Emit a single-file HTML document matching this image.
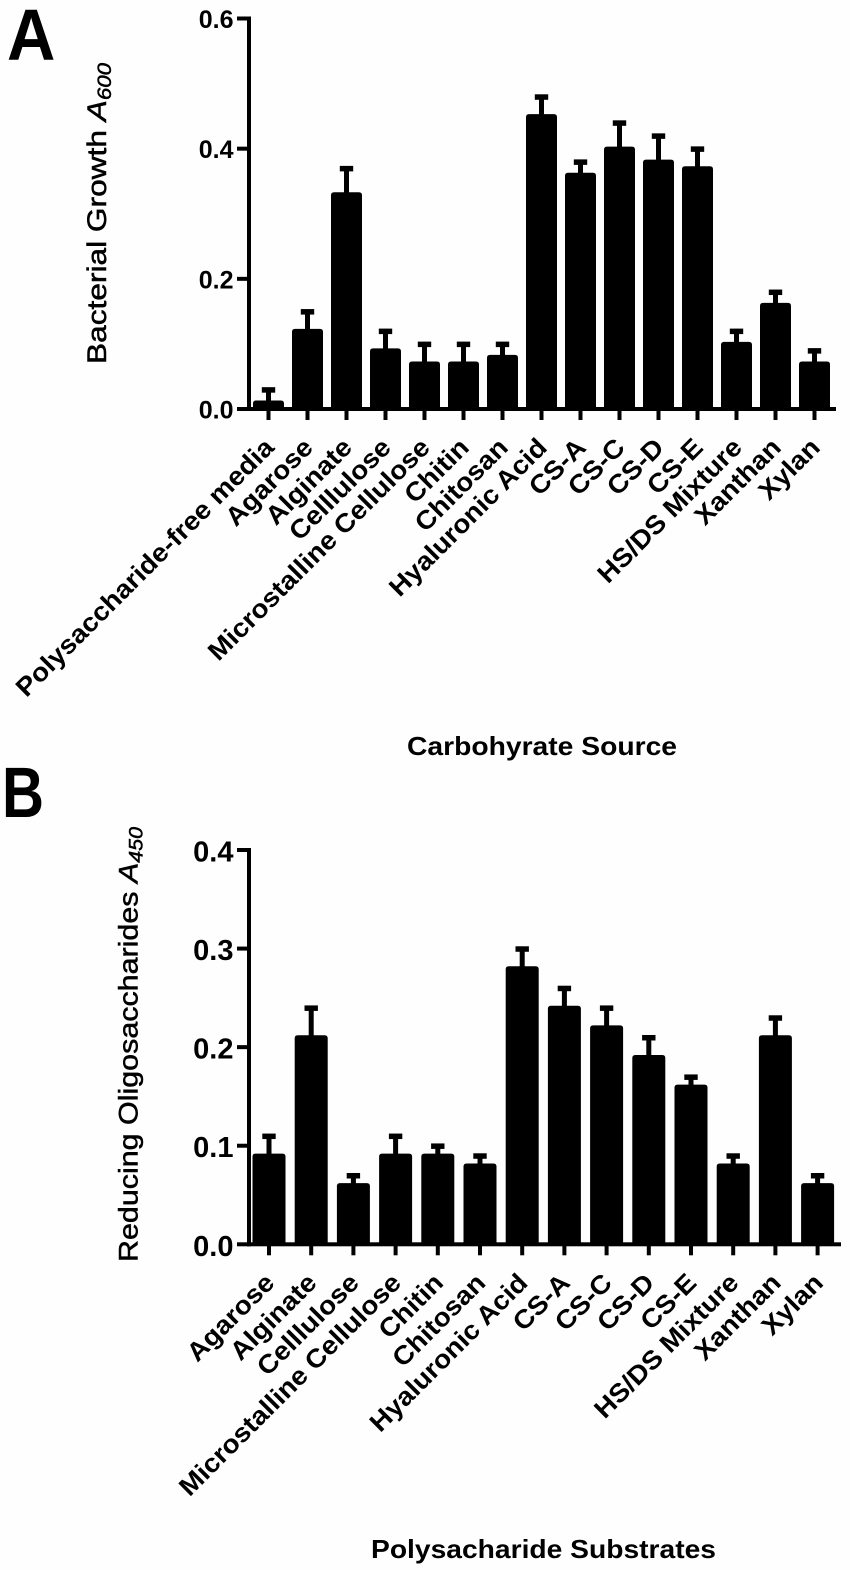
<!DOCTYPE html>
<html lang="en">
<head>
<meta charset="utf-8">
<title>Bacterial growth and reducing oligosaccharides</title>
<style>
html,body{margin:0;padding:0;background:#fefefe;}
svg{display:block;}
text{font-family:"Liberation Sans",sans-serif;font-weight:bold;fill:#000;}
</style>
</head>
<body>
<svg id="fig" xmlns="http://www.w3.org/2000/svg" width="850" height="1570" viewBox="0 0 850 1570">
  <text font-size="72" transform="translate(7 59.5) scale(0.93 1)">A</text>
  <text font-size="71" transform="translate(2 817) scale(0.82 1)">B</text>
  <text transform="translate(106 364) rotate(-90)" font-size="27" textLength="301" lengthAdjust="spacingAndGlyphs" style="font-weight:normal;stroke:#000;stroke-width:.5">Bacterial Growth <tspan font-style="italic">A</tspan><tspan font-style="italic" font-size="19" dy="5">600</tspan></text>
  <text x="407" y="755" font-size="26" textLength="270" lengthAdjust="spacingAndGlyphs">Carbohyrate Source</text>
  <text transform="translate(137.5 1262) rotate(-90)" font-size="27" textLength="435" lengthAdjust="spacingAndGlyphs" style="font-weight:normal;stroke:#000;stroke-width:.5">Reducing Oligosaccharides <tspan font-style="italic">A</tspan><tspan font-style="italic" font-size="19" dy="5">450</tspan></text>
  <text x="371" y="1558" font-size="26" textLength="345" lengthAdjust="spacingAndGlyphs">Polysacharide Substrates</text>
  <g id="chart-a"></g>
  <g id="chart-b"></g>
</svg>
<script>
const categoriesA = ["Polysaccharide-free media","Agarose","Alginate","Celllulose","Microstalline Cellulose","Chitin","Chitosan","Hyaluronic Acid","CS-A","CS-C","CS-D","CS-E","HS/DS Mixture","Xanthan","Xylan"];
const valuesA = [0.01,0.12,0.33,0.09,0.07,0.07,0.08,0.45,0.36,0.40,0.38,0.37,0.10,0.16,0.07];
const errorsA = [0.02,0.03,0.04,0.03,0.03,0.03,0.02,0.03,0.02,0.04,0.04,0.03,0.02,0.02,0.02];
const ticksA = [0.0,0.2,0.4,0.6];

const categoriesB = ["Agarose","Alginate","Celllulose","Microstalline Cellulose","Chitin","Chitosan","Hyaluronic Acid","CS-A","CS-C","CS-D","CS-E","HS/DS Mixture","Xanthan","Xylan"];
const valuesB = [0.09,0.21,0.06,0.09,0.09,0.08,0.28,0.24,0.22,0.19,0.16,0.08,0.21,0.06];
const errorsB = [0.02,0.03,0.01,0.02,0.01,0.01,0.02,0.02,0.02,0.02,0.01,0.01,0.02,0.01];
const ticksB = [0.0,0.1,0.2,0.3,0.4];

const NS = "http://www.w3.org/2000/svg";
function mk(parent, tag, props) {
  const el = document.createElementNS(NS, tag);
  for (const k in props) el.setAttribute(k, props[k]);
  parent.appendChild(el);
  return el;
}

function drawChart(root, cats, vals, errs, ticks, o) {
  const yScale = v => o.y0 + (o.yTop - o.y0) * (v / ticks[ticks.length - 1]);
  const xScale = i => o.x0 + i * o.step;

  const yAxis = mk(root, "rect", {x: o.axisX - 2, y: yScale(ticks[ticks.length - 1]) - 2, width: 4, height: o.y0 - yScale(ticks[ticks.length - 1]) + 4, fill: "#000"});
  
  

  const xAxis = mk(root, "rect", {x: o.axisX - 2, y: o.y0 - 2, width: o.xEnd - o.axisX + 2, height: 4, fill: "#000"});
  
  

  ticks.forEach(t => {
    const y = yScale(t);
    const tick = mk(root, "rect", {x: o.axisX - 12, y: y - 2, width: 12, height: 4, fill: "#000"});
    
    
    const lab = mk(root, "text", {"text-anchor": "end", "font-size": o.tickFont, transform: `translate(${o.axisX - 15.5} ${y + o.tickDy}) scale(${o.tickScale} 1)`});
    lab.textContent = t.toFixed(1);
    
    
  });

  cats.forEach((c, i) => {
    const x = xScale(i);
    const top = yScale(vals[i]) - 2;
    const errTop = yScale(vals[i] + errs[i]);

    const stem = mk(root, "rect", {x: x - 2.5, y: errTop - 2, width: 5, height: top - errTop + 4, fill: "#000"});
    
    

    const cap = mk(root, "rect", {x: x - 6.7, y: errTop - 2.3, width: 13.4, height: 5.5, fill: "#000"});
    
    

    const bar = mk(root, "path", {d: `M${x - o.barW / 2} ${o.y0}V${top + 3}Q${x - o.barW / 2} ${top} ${x - o.barW / 2 + 3} ${top}H${x + o.barW / 2 - 3}Q${x + o.barW / 2} ${top} ${x + o.barW / 2} ${top + 3}V${o.y0}Z`, fill: "#000"});
    
    

    const tick = mk(root, "rect", {x: x - 2, y: o.y0, width: 4, height: o.tickLen, fill: "#000"});
    
    

    const lab = mk(root, "text", {"text-anchor": "end", "font-size": o.labelFont, transform: `translate(${x + o.labelDx} ${o.y0 + o.labelDy}) rotate(-45) scale(${o.labelScale} 1)`});
    lab.textContent = c;
    
    
  });
}

drawChart(document.getElementById("chart-a"), categoriesA, valuesA, errorsA, ticksA, {
  x0: 268.5, step: 39.0, y0: 409, yTop: 18.5, axisX: 249, xEnd: 836, barW: 31,
  tickFont: 25, tickScale: 1.0, tickDy: 9.5, tickLen: 11, labelFont: 26, labelScale: 1.07, labelDx: 7, labelDy: 40
});
drawChart(document.getElementById("chart-b"), categoriesB, valuesB, errorsB, ticksB, {
  x0: 269, step: 42.2, y0: 1244.3, yTop: 850, axisX: 249, xEnd: 841, barW: 33,
  tickFont: 29, tickScale: 1.0, tickDy: 11.5, tickLen: 11, labelFont: 26, labelScale: 1.07, labelDx: 7, labelDy: 40
});
</script>
</body>
</html>
